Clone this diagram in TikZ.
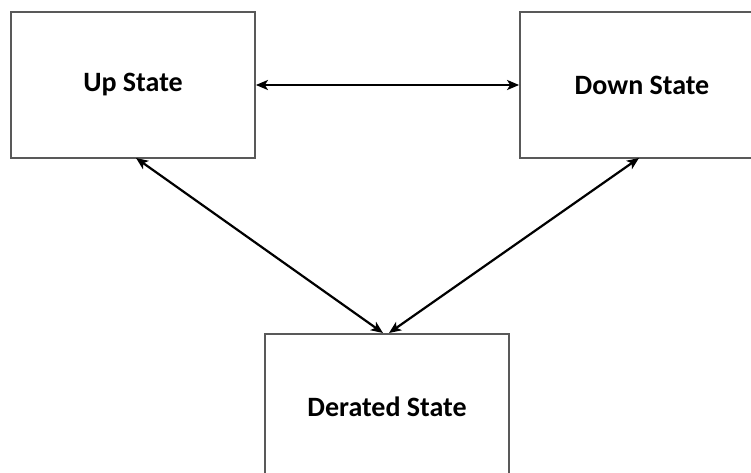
\documentclass[tikz,border=0pt]{standalone}
\usepackage{fontspec}
\setmainfont{Carlito}
\usetikzlibrary{arrows.meta}
\begin{document}
\begin{tikzpicture}[x=1pt,y=-1pt,
  statebox/.style={draw=black!65, line width=1.8pt, fill=white, minimum width=244pt, minimum height=146pt, inner sep=0pt, font=\bfseries\fontsize{28}{32}\selectfont},
  link/.style={line width=2.2pt, {Stealth[length=12pt,width=10pt,inset=3pt]}-{Stealth[length=12pt,width=10pt,inset=3pt]}}]
\useasboundingbox (0,0) rectangle (751,473);
\clip (0,0) rectangle (751,473);
\node[statebox] (up) at (133,85) {Up State};
\node[statebox] (down) at (642,85) {Down State};
\node[statebox] (der) at (387,407) {Derated State};
\draw[link] (up.east) -- (down.west);
\coordinate (upb) at (136,158);
\coordinate (downb) at (639,158);
\coordinate (dert) at (386,333);
\draw[link] (upb) -- ([xshift=-3pt]dert);
\draw[link] (downb) -- ([xshift=3pt]dert);
\end{tikzpicture}
\end{document}
